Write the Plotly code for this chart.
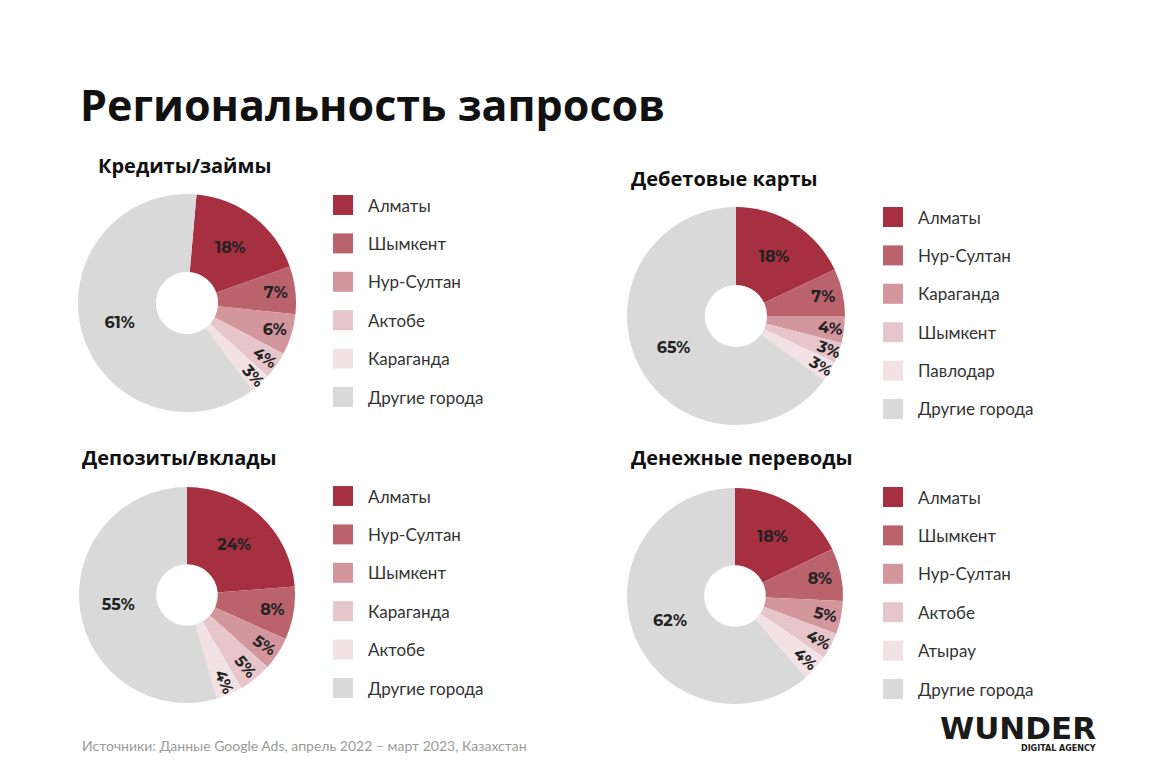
import plotly.graph_objects as go

# ---- data ----
credit_labels = ["Алматы", "Шымкент", "Нур-Султан", "Актобе", "Караганда", "Другие города"]
credit_values = [18, 7, 6, 4, 3, 61]

debit_labels = ["Алматы", "Нур-Султан", "Караганда", "Шымкент", "Павлодар", "Другие города"]
debit_values = [18, 7, 4, 3, 3, 65]

deposit_labels = ["Алматы", "Нур-Султан", "Шымкент", "Караганда", "Актобе", "Другие города"]
deposit_values = [24, 8, 5, 5, 4, 55]

transfer_labels = ["Алматы", "Шымкент", "Нур-Султан", "Актобе", "Атырау", "Другие города"]
transfer_values = [18, 8, 5, 4, 4, 62]

chart_titles = ["Кредиты/займы", "Дебетовые карты", "Депозиты/вклады", "Денежные переводы"]
main_title = "Региональность запросов"
source_note = "Источники: Данные Google Ads, апрель 2022 – март 2023, Казахстан"

colors = ["#A63040", "#BB636C", "#D3969D", "#E7C6CB", "#F3E2E5", "#D9D9D9"]

W, H = 1176, 784

# layout specs (pixel positions)
panels = [
    dict(labels=credit_labels, values=credit_values, cx=187, cy=303, r=109, rot=5,
         title=chart_titles[0], tx=96, ty=165, lx=333, ly0=205),
    dict(labels=debit_labels, values=debit_values, cx=736, cy=316, r=109, rot=0,
         title=chart_titles[1], tx=629, ty=178, lx=883, ly0=217),
    dict(labels=deposit_labels, values=deposit_values, cx=187, cy=595, r=108, rot=0,
         title=chart_titles[2], tx=80, ty=458, lx=333, ly0=496),
    dict(labels=transfer_labels, values=transfer_values, cx=735, cy=596, r=108, rot=0,
         title=chart_titles[3], tx=629, ty=458, lx=883, ly0=497),
]
row_step = 38.4
sq = 20

fig = go.Figure()
shapes = []
annotations = []

def px_x(x):
    return x / W

def px_y(y):
    return 1 - y / H

for p in panels:
    fig.add_trace(go.Pie(
        labels=p["labels"], values=p["values"],
        sort=False, direction="clockwise", rotation=p["rot"],
        hole=0.285,
        marker=dict(colors=colors, line=dict(width=0)),
        texttemplate="%{value}%", textposition="inside",
        insidetextorientation="auto",
        textfont=dict(family="Montserrat, Open Sans, sans-serif", size=16, color="#222222", weight=700),
        hoverinfo="label+value",
        showlegend=False,
        domain=dict(x=[px_x(p["cx"] - p["r"]), px_x(p["cx"] + p["r"])],
                    y=[px_y(p["cy"] + p["r"]), px_y(p["cy"] - p["r"])]),
    ))
    annotations.append(dict(
        x=px_x(p["tx"]), y=px_y(p["ty"]), xref="paper", yref="paper",
        xanchor="left", yanchor="middle", showarrow=False,
        text=p["title"],
        font=dict(family="Open Sans, sans-serif", size=20, color="#111111", weight=700),
    ))
    for i, lab in enumerate(p["labels"]):
        yc = p["ly0"] + i * row_step
        shapes.append(dict(
            type="rect", xref="paper", yref="paper",
            x0=px_x(p["lx"]), x1=px_x(p["lx"] + sq),
            y0=px_y(yc + sq / 2), y1=px_y(yc - sq / 2),
            fillcolor=colors[i], line=dict(width=0),
        ))
        annotations.append(dict(
            x=px_x(p["lx"] + 33), y=px_y(yc), xref="paper", yref="paper",
            xanchor="left", yanchor="middle", showarrow=False,
            text=lab,
            font=dict(family="Lato, sans-serif", size=17, color="#333333"),
        ))

annotations.append(dict(
    x=px_x(78), y=px_y(104), xref="paper", yref="paper",
    xanchor="left", yanchor="middle", showarrow=False,
    text=main_title,
    font=dict(family="Open Sans, sans-serif", size=43, color="#111111", weight=700),
))
annotations.append(dict(
    x=px_x(80), y=px_y(745), xref="paper", yref="paper",
    xanchor="left", yanchor="middle", showarrow=False,
    text=source_note,
    font=dict(family="Lato, sans-serif", size=14, color="#9a9a9a"),
))
annotations.append(dict(
    x=px_x(1098), y=px_y(728), xref="paper", yref="paper",
    xanchor="right", yanchor="middle", showarrow=False,
    text="WUNDER",
    font=dict(family="DejaVu Sans, sans-serif", size=31, color="#1a1a1a", weight=900),
))
annotations.append(dict(
    x=px_x(1098), y=px_y(748), xref="paper", yref="paper",
    xanchor="right", yanchor="middle", showarrow=False,
    text="DIGITAL AGENCY",
    font=dict(family="DejaVu Sans, sans-serif", size=8, color="#1a1a1a", weight=700),
))

fig.update_layout(
    width=W, height=H,
    margin=dict(l=0, r=0, t=0, b=0),
    paper_bgcolor="white", plot_bgcolor="white",
    shapes=shapes, annotations=annotations,
    uniformtext=dict(minsize=16, mode="show"),
)

fig.write_html("out.html", config={"displayModeBar": False},
               post_script="document.body.style.margin='0';")
